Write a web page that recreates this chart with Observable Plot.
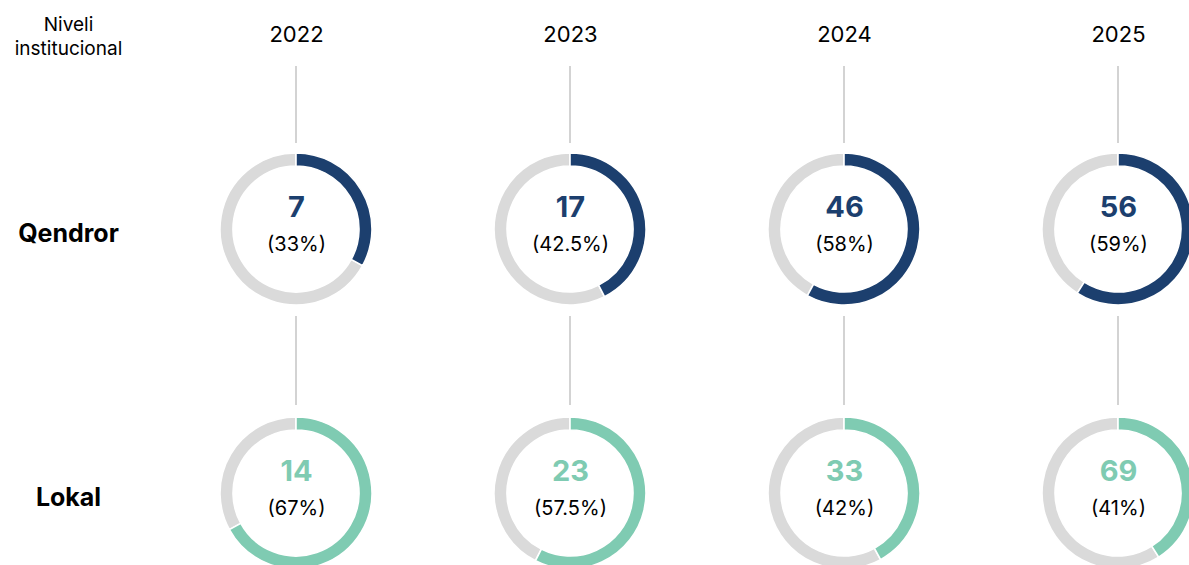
<!DOCTYPE html>
<html>
<head>
<meta charset="utf-8">
<script src="https://cdn.jsdelivr.net/npm/d3@7"></script>
<script src="https://cdn.jsdelivr.net/npm/@observablehq/plot@0.6"></script>
<style>
  html, body { margin: 0; padding: 0; background: #fff; overflow: hidden; }
  #chart svg { display: block; }
</style>
</head>
<body>
<div id="chart"></div>
<script>
// ---- data ----
const years = ["2022", "2023", "2024", "2025"];
const levels = ["Qendror", "Lokal"];
const qendrorValues = [7, 17, 46, 56];
const qendrorPct = [33, 42.5, 58, 59];
const lokalValues = [14, 23, 33, 69];
const lokalPct = [67, 57.5, 42, 41];
const headerLabel = "Niveli\ninstitucional";

const colors = { Qendror: "#1c3f6e", Lokal: "#7fcbb2" };
const grey = "#dadada";
const lineGrey = "#d3d3d3";

const rows = [];
years.forEach((yr, i) => {
  rows.push({ year: yr, level: "Qendror", value: qendrorValues[i], pct: qendrorPct[i] });
  rows.push({ year: yr, level: "Lokal", value: lokalValues[i], pct: lokalPct[i] });
});

const R = 76, r = 63;
const arc = d3.arc().innerRadius(r).outerRadius(R);
const TAU = Math.PI * 2;

function donutRender(index, scales, values) {
  const g = d3.create("svg:g");
  for (const i of index) {
    const d = rows[i];
    const cx = values.x[i], cy = values.y[i];
    const t = (d.pct / 100) * TAU;
    const gg = g.append("g").attr("transform", `translate(${cx},${cy})`);
    gg.append("path")
      .attr("d", arc({ startAngle: t, endAngle: TAU }))
      .attr("fill", grey).attr("stroke", "#fff").attr("stroke-width", 1.6);
    gg.append("path")
      .attr("d", arc({ startAngle: 0, endAngle: t }))
      .attr("fill", colors[d.level]).attr("stroke", "#fff").attr("stroke-width", 1.6);
  }
  return g.node();
}

function connectorRender(index, scales, values) {
  const g = d3.create("svg:g");
  const y0 = scales.y(levels[0]);
  const y1 = scales.y(levels[1]);
  for (const i of index) {
    const x = values.x[i];
    const segs = [[y0 - 163, y0 - 86], [y0 + 87, y1 - 88]];
    for (const [a, b] of segs) {
      g.append("line")
        .attr("x1", x).attr("x2", x).attr("y1", a).attr("y2", b)
        .attr("stroke", lineGrey).attr("stroke-width", 2);
    }
  }
  return g.node();
}

const chart = Plot.plot({
  width: 1189,
  height: 565,
  marginLeft: 296,
  marginRight: 71,
  marginTop: 229,
  marginBottom: 72,
  x: { type: "point", domain: years, padding: 0, axis: null },
  y: { type: "point", domain: levels, padding: 0, axis: null },
  style: { fontFamily: "Inter, 'Noto Sans', sans-serif", background: "#fff", color: "#000" },
  marks: [
    Plot.ruleX(years, { x: d => d, render: connectorRender }),
    Plot.dot(rows, { x: "year", y: "level", render: donutRender }),
    // numbers
    Plot.text(rows, {
      x: "year", y: "level", text: d => String(d.value),
      dy: -22, fontSize: 29, fontWeight: 700,
      fill: d => colors[d.level]
    }),
    // percentages
    Plot.text(rows, {
      x: "year", y: "level", text: d => `(${d.pct}%)`,
      dy: 15, fontSize: 20, fontWeight: 400, fill: "#000"
    }),
    // year headers
    Plot.text(years, {
      x: d => d, text: d => d, frameAnchor: "top", lineAnchor: "middle", dy: -195,
      fontSize: 22, fontWeight: 400, fill: "#000"
    }),
    // row labels
    Plot.text(levels, {
      y: d => d, text: d => d, frameAnchor: "left", textAnchor: "middle",
      dx: -228, dy: 4, fontSize: 25, fontWeight: 700, fill: "#000"
    }),
    // header label
    Plot.text([headerLabel], {
      text: d => d, frameAnchor: "top-left", textAnchor: "middle", lineAnchor: "middle",
      dx: -228, dy: -194, fontSize: 19, fontWeight: 400, lineHeight: 1.25, fill: "#000"
    })
  ]
});

document.getElementById("chart").appendChild(chart);
</script>
</body>
</html>
